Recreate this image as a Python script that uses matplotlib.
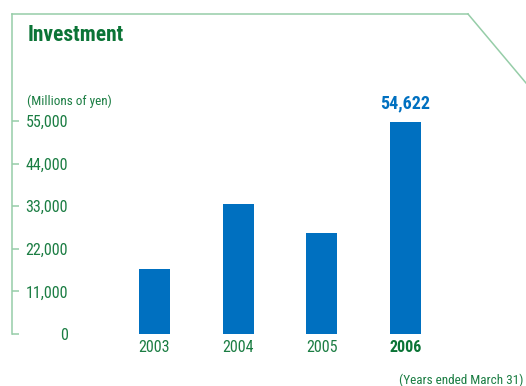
import matplotlib
matplotlib.use('Agg')
import matplotlib.pyplot as plt
from matplotlib.lines import Line2D
import numpy as np

# Investment by fiscal year (millions of yen)
years = ['2003', '2004', '2005', '2006']
investment = [16800, 33600, 26100, 54622]
yticks = [0, 11000, 22000, 33000, 44000, 55000]

plt.rcParams['font.family'] = ['Roboto Condensed', 'DejaVu Sans']

green_text = '#1b7d43'
green_dark = '#0b7436'
green_line = '#96cda8'
blue = '#0070c0'

W, H = 526, 386
fig = plt.figure(figsize=(W / 100, H / 100), dpi=100)
ax = fig.add_axes([12 / W, (H - 334) / H, (468 - 12) / W, (334 - 14) / H])

x = np.arange(len(years))
ax.bar(x, investment, width=0.37, color=blue, zorder=2)

ax.set_xlim(-1.703, 3.747)
ax.set_ylim(0, 320 * 55000 / 213)

# frame: left and top only, light green
for side in ['right', 'bottom']:
    ax.spines[side].set_visible(False)
for side in ['left', 'top']:
    ax.spines[side].set_color(green_line)
    ax.spines[side].set_linewidth(1.1)

ax.set_yticks(yticks)
ax.set_yticklabels([f'{v:,}' for v in yticks])
ax.tick_params(axis='y', direction='in', length=5, width=1.1, color=green_line,
               labelcolor=green_text, labelsize=11.5, pad=-40.3)
for lab in ax.get_yticklabels():
    lab.set_horizontalalignment('right')

ax.set_xticks(x)
ax.set_xticklabels(years)
ax.tick_params(axis='x', length=0, labelcolor=green_text, labelsize=11.5, pad=4)
last = ax.get_xticklabels()[-1]
last.set_fontweight('bold')
last.set_color(green_dark)

# value label on the latest year
ax.annotate(f'{investment[-1]:,}', (x[-1], investment[-1]), xytext=(0, 7),
            textcoords='offset points', ha='center', va='bottom',
            color=blue, fontsize=13, fontweight='bold')

# cut corner at top right
fig.add_artist(Line2D([468 / W, 1.0], [1 - 14 / H, 1 - 83 / H],
                      transform=fig.transFigure, color=green_line, lw=1.1))

fig.text(28 / W, 1 - 35 / H, 'Investment', color=green_dark, fontsize=15.5,
         fontweight='bold', va='center', ha='left')
fig.text(27 / W, 1 - 101 / H, '(Millions of yen)', color=green_text, fontsize=9.5,
         va='center', ha='left')
fig.text(523 / W, 1 - 380 / H, '(Years ended March 31)', color=green_text,
         fontsize=9.5, va='center', ha='right')

fig.savefig('out.png', dpi=100)
